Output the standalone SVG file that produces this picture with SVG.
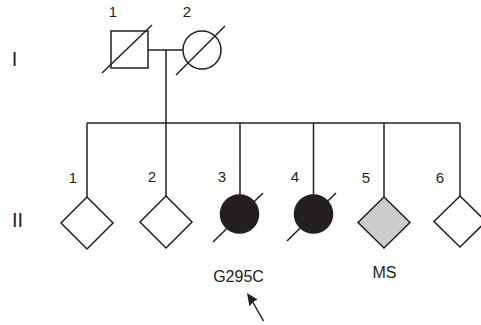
<svg xmlns="http://www.w3.org/2000/svg" width="481" height="325" viewBox="0 0 481 325">
<style>
.ln{stroke:#231f20;stroke-width:1.5;fill:none}
.sym{stroke:#231f20;stroke-width:1.5;fill:#ffffff}
.aff{stroke:#231f20;stroke-width:1.5;fill:#231f20}
.ms{stroke:#231f20;stroke-width:1.5;fill:#cccccc}
.num{font-family:"Liberation Sans",Arial,sans-serif;font-size:15px;fill:#231f20;text-anchor:middle}
.lab{font-family:"Liberation Sans",Arial,sans-serif;font-size:16px;fill:#231f20;text-anchor:middle}
.gen{font-family:"Liberation Sans",Arial,sans-serif;font-size:20px;fill:#231f20;text-anchor:middle}
</style>
<rect width="481" height="325" fill="#ffffff"/>
<text class="gen" x="14.5" y="66">I</text>
<text class="gen" x="17.5" y="227">II</text>
<g id="connectors">
<line class="ln" x1="148" y1="50" x2="183" y2="50"/>
<line class="ln" x1="166" y1="50" x2="166" y2="123"/>
<line class="ln" x1="87" y1="123" x2="460" y2="123"/>
<line class="ln" x1="87" y1="123" x2="87" y2="197"/>
<line class="ln" x1="166" y1="123" x2="166" y2="196"/>
<line class="ln" x1="240" y1="123" x2="240" y2="195"/>
<line class="ln" x1="313.5" y1="123" x2="313.5" y2="195"/>
<line class="ln" x1="384" y1="123" x2="384" y2="197"/>
<line class="ln" x1="460" y1="123" x2="460" y2="196"/>
</g>
<g id="I-1">
<rect class="sym" x="111" y="31" width="37" height="37"/>
<line class="ln" x1="102" y1="73" x2="152" y2="25"/>
<text class="num" x="113" y="17">1</text>
</g>
<g id="I-2">
<circle class="sym" cx="202" cy="50" r="19"/>
<line class="ln" x1="176" y1="75" x2="225" y2="26"/>
<text class="num" x="187" y="17">2</text>
</g>
<g id="II-1">
<polygon class="sym" points="87,197 113,223 87,249 61,223"/>
<text class="num" x="73" y="183">1</text>
</g>
<g id="II-2">
<polygon class="sym" points="166,196 192,222 166,248 140,222"/>
<text class="num" x="152" y="182">2</text>
</g>
<g id="II-3">
<circle class="aff" cx="239.5" cy="214" r="19"/>
<line class="ln" x1="213" y1="242" x2="263" y2="193"/>
<text class="num" x="222" y="182">3</text>
<text class="lab" x="238.5" y="281.5">G295C</text>
</g>
<g id="II-4">
<circle class="aff" cx="313.5" cy="214" r="19"/>
<line class="ln" x1="287" y1="241" x2="336" y2="193"/>
<text class="num" x="295" y="182">4</text>
</g>
<g id="II-5">
<polygon class="ms" points="384,197 410,222.5 384,248 358,222.5"/>
<text class="num" x="366" y="183">5</text>
<text class="lab" x="384.5" y="277.5">MS</text>
</g>
<g id="II-6">
<polygon class="sym" points="460,196 486,221.5 460,247 434,221.5"/>
<text class="num" x="440" y="183">6</text>
</g>
<g id="proband-arrow">
<line class="ln" x1="263.5" y1="321" x2="252.5" y2="301.5"/>
<polygon fill="#231f20" points="247,293 257.5,299.5 253,302 249.5,306.5"/>
</g>
</svg>
